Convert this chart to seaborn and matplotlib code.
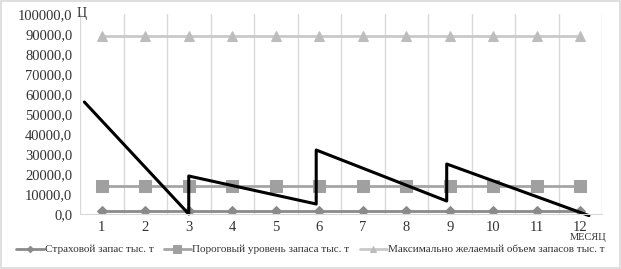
import numpy as np
import pandas as pd
import matplotlib
matplotlib.use("Agg")
import matplotlib.pyplot as plt
import seaborn as sns
from matplotlib.ticker import FuncFormatter, MultipleLocator
from matplotlib.patches import Rectangle

months = list(range(1, 13))
month_labels = [str(m) for m in months]
safety_stock = [1500] * 12
threshold = [14000] * 12
max_stock = [89000] * 12

# stock level (sawtooth)
stock_x = [0.6, 3.0, 3.0, 5.93, 5.93, 8.93, 8.93, 12.2]
stock_y = [56000, 0, 19000, 5000, 32000, 6500, 25000, -800]

names = ["Страховой запас тыс. т",
         "Пороговый уровень запаса тыс. т",
         "Максимально желаемый объем запасов тыс. т"]

sns.set_style("white")
plt.rcParams['font.family'] = 'serif'
plt.rcParams['font.serif'] = ['Liberation Serif']
FONT = 'Liberation Serif'
TXT = '#333333'

fig = plt.figure(figsize=(6.21, 2.69), dpi=100)
ax = fig.add_axes([80/621, 1-214/269, 522/621, 200/269])

styles = [
    (safety_stock, "#8a8a8a", "D", 5, "#8a8a8a"),
    (threshold, "#a5a5a5", "s", 8, "#a0a0a0"),
    (max_stock, "#c9c9c9", "^", 7, "#bdbdbd"),
]
handles = []
for (vals, col, mk, ms, mcol), name in zip(styles, names):
    df = pd.DataFrame({"m": months, "v": vals})
    sns.lineplot(data=df, x="m", y="v", ax=ax, color=col, linewidth=2,
                 marker=mk, markersize=ms, markerfacecolor=mcol,
                 markeredgecolor=mcol, label=name, legend=False)
    handles.append(ax.get_lines()[-1])

sdf = pd.DataFrame({"x": stock_x, "y": stock_y})
sns.lineplot(data=sdf, x="x", y="y", ax=ax, color="black", linewidth=2.2,
             sort=False, estimator=None, legend=False)
ax.get_lines()[-1].set_clip_on(False)

ax.set_xlim(0.5, 12.5)
ax.set_ylim(0, 100000)
ax.set_xticks(months)
ax.set_xticklabels(month_labels)
ax.yaxis.set_major_locator(MultipleLocator(10000))
ax.yaxis.set_major_formatter(FuncFormatter(lambda v, p: f"{v:.1f}".replace(".", ",")))
ax.set_xticks(np.arange(0.5, 13, 1), minor=True)
ax.grid(which='major', axis='both', visible=False)
ax.grid(which='minor', axis='x', visible=True, color='#d9d9d9', linewidth=1)
ax.tick_params(axis='both', which='both', length=0, labelsize=10.5, colors=TXT)
ax.tick_params(axis='x', pad=5)
ax.tick_params(axis='y', pad=5.5)
for s in ['top', 'right', 'left']:
    ax.spines[s].set_visible(False)
ax.spines['bottom'].set_color('#d9d9d9')
ax.set_xlabel(None)
ax.set_ylabel(None)

fig.text(77/621, 1-13/269, "Ц", fontsize=10, va='center', ha='left', color=TXT, family=FONT)
fig.text(588/621, 1-238/269, "МЕСЯЦ", fontsize=7.5, va='center', ha='center', color=TXT, family=FONT)

fig.legend(handles=handles, labels=names, loc='center', bbox_to_anchor=(0.5, 1-249.5/269),
           ncol=3, frameon=False, prop={'family': FONT, 'size': 8.0}, handlelength=2.5,
           columnspacing=0.9, handletextpad=0.1, labelcolor=TXT, markerscale=0.65,
           borderpad=0.2)

fig.patches.append(Rectangle((0.002, 0.004), 0.996, 0.992, transform=fig.transFigure,
                             fill=False, edgecolor='#d9d9d9', linewidth=1.2))

fig.savefig("out.png", dpi=100)
